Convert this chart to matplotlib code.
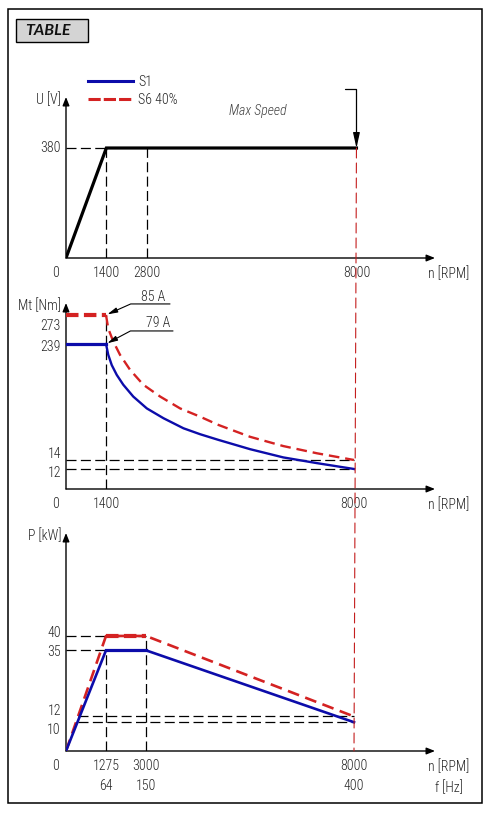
import numpy as np
import matplotlib
matplotlib.use("Agg")
import matplotlib.pyplot as plt
from matplotlib.patches import Rectangle, ConnectionPatch
from matplotlib.lines import Line2D

# ---------------- data ----------------
# Voltage chart
u_n = [0, 1400, 8000]
u_V = [0, 380, 380]
u_xticks = [1400, 2800, 8000]
u_yticks = [380]

# Torque chart
s1_tn = [0, 1400, 1490, 1630, 1830, 2090, 2490, 3020, 3420, 3900, 4300, 4740, 5500, 6300, 7110, 8000]
s1_T = [239, 239, 218, 198, 179, 160, 137, 114, 95, 75.5, 64, 53, 35, 19, 13.3, 12]
s6_tn = [0, 1400, 1490, 1690, 1960, 2360, 2890, 3340, 3820, 4300, 4740, 5500, 6300, 7110, 8000]
s6_T = [273, 273, 257, 242, 218, 189, 160, 137, 114, 98, 82, 59, 41, 27, 14]
t_xticks = [1400, 8000]
t_yticks = [273, 239, 14, 12]
s1_current = "79 A"
s6_current = "85 A"

# Power chart
p_n = [0, 1275, 3000, 8000]
s1_P = [0, 35, 35, 10]
s6_P = [0, 40, 40, 12]
p_xticks = [1275, 3000, 8000]
p_freq = [64, 150, 400]
p_yticks = [40, 35, 12, 10]

max_speed = 8000
legend_labels = ["S1", "S6 40%"]

# ---------------- style ----------------
FONT = ["Roboto Condensed", "DejaVu Sans"]
plt.rcParams["font.family"] = FONT
plt.rcParams["font.size"] = 10
plt.rcParams["font.weight"] = "light"
TXT = "#262626"
BLUE = "#0c0caa"
RED = "#d42222"
RED_V = "#c41e1e"

W, H = 497, 817
fig = plt.figure(figsize=(W / 100, H / 100), dpi=100)


def fx(px):
    return px / W


def fy(py):
    return 1 - py / H


def piecewise(vals, pos):
    vals = np.asarray(vals, float)
    pos = np.asarray(pos, float)
    s0 = (pos[1] - pos[0]) / (vals[1] - vals[0])
    s1 = (pos[-1] - pos[-2]) / (vals[-1] - vals[-2])
    v = np.concatenate([[vals[0] - 1e6], vals, [vals[-1] + 1e6]])
    p = np.concatenate([[pos[0] - 1e6 * s0], pos, [pos[-1] + 1e6 * s1]])
    return (lambda x: np.interp(x, v, p)), (lambda y: np.interp(y, p, v))


# outer frame and title box
fig.patches.append(Rectangle((fx(7.5), fy(803)), fx(482.5) - fx(7.5), (803 - 9) / H,
                             transform=fig.transFigure, fill=False, ec="k", lw=1.1))
fig.patches.append(Rectangle((fx(16), fy(42.3)), fx(88) - fx(16), (42.3 - 19.3) / H,
                             transform=fig.transFigure, fc="#d4d4d4", ec="k", lw=1.0))
fig.text(fx(25), fy(31), "TABLE", ha="left", va="center", fontsize=11.5,
         fontweight="bold", fontstyle="italic", family=["Lato", "DejaVu Sans"], color="#111")


def add_ax(top_px, bottom_px):
    ax = fig.add_axes([fx(66), fy(bottom_px), fx(435) - fx(66), (bottom_px - top_px) / H])
    ax.patch.set_visible(False)
    for s in ax.spines.values():
        s.set_visible(False)
    return ax


ax1 = add_ax(97, 258)
ax2 = add_ax(303, 489)
ax3 = add_ax(533, 751)

XMAX = 9947
ax1.set_xscale("function", functions=piecewise([0, 1400, 2800, 8000], [0, 1, 2, 7.2]))
ax2.set_xscale("function", functions=piecewise([0, 1400, 3000, 8000], [0, 1, 2, 7.2]))
ax3.set_xscale("function", functions=piecewise([0, 1275, 3000, 8000], [0, 1, 2, 7.2]))
ax2.set_yscale("function", functions=piecewise([0, 12, 14, 239, 273], [0, 20, 29, 145, 174]))
ax1.set_ylim(0, 556.2)
ax2.set_ylim(0, 287)
ax3.set_ylim(0, 75.8)
for ax in (ax1, ax2, ax3):
    ax.set_xlim(0, XMAX)
    ax.set_yticks([])
    ax.tick_params(axis="x", length=0, pad=6, labelcolor=TXT, labelsize=10)

AX_ARROW = dict(arrowstyle="-|>,head_length=0.5,head_width=0.2", color="k", lw=1.0,
                shrinkA=0, shrinkB=0, mutation_scale=10)


def axes_arrows(ax, ylabel, xlabel):
    ax.annotate("", xy=(1, 0), xytext=(0, 0), xycoords="axes fraction",
                arrowprops=AX_ARROW, annotation_clip=False)
    ax.annotate("", xy=(0, 1), xytext=(0, 0), xycoords="axes fraction",
                arrowprops=AX_ARROW, annotation_clip=False)
    ax.annotate(ylabel, xy=(0, 1), xycoords="axes fraction", xytext=(-5, -3),
                textcoords="offset pixels", ha="right", va="center", color=TXT,
                annotation_clip=False)
    ax.annotate(xlabel, xy=(1, 0), xycoords="axes fraction", xytext=(14, -8),
                textcoords="offset pixels", ha="center", va="top", color=TXT,
                linespacing=1.55, annotation_clip=False)
    ax.annotate("0", xy=(0, 0), xycoords="axes fraction", xytext=(-10, -8),
                textcoords="offset pixels", ha="center", va="top", color=TXT,
                annotation_clip=False)


def ylab(ax, v, dy):
    ax.annotate(str(v), xy=(0, v), xycoords=("axes fraction", "data"), xytext=(-5, dy),
                textcoords="offset pixels", ha="right", va="center", color=TXT,
                annotation_clip=False)


GUIDE = dict(color="k", lw=0.9, linestyle=(0, (8, 3.5)), zorder=1)

# ---------------- voltage ----------------
axes_arrows(ax1, "U [V]", "n [RPM]")
ax1.set_xticks(u_xticks, [str(t) for t in u_xticks])
ylab(ax1, u_yticks[0], 0)
ax1.plot([0, u_n[1]], [u_V[1]] * 2, **GUIDE)
for t in u_xticks[:2]:
    ax1.plot([t, t], [0, u_V[1]], **GUIDE)
ax1.plot(u_n, u_V, color="k", lw=2.3, solid_joinstyle="miter", zorder=3)
ax1.text(0.52, 0.913, "Max Speed", transform=ax1.transAxes, ha="center", va="center",
         fontstyle="italic", color="#444", fontsize=10)
ax1.annotate("", xy=(max_speed, u_V[-1]), xytext=(-11, 59), textcoords="offset pixels",
             arrowprops=dict(arrowstyle="-|>,head_length=0.9,head_width=0.2", color="k",
                             lw=0.9, shrinkA=0, shrinkB=0, mutation_scale=10,
                             connectionstyle="angle,angleA=0,angleB=90,rad=0"),
             annotation_clip=False)

handles = [Line2D([], [], color=BLUE, lw=2.2),
           Line2D([], [], color=RED, lw=2.2, linestyle=(0, (4, 1)))]
ax1.legend(handles, legend_labels, loc="upper left", bbox_to_anchor=(fx(88), fy(75)),
           bbox_transform=fig.transFigure, frameon=False, borderpad=0, borderaxespad=0,
           handlelength=3.25, handletextpad=0.36, labelspacing=0.3, fontsize=10,
           labelcolor=TXT)

# ---------------- torque ----------------
axes_arrows(ax2, "Mt [Nm]", "n [RPM]")
ax2.set_xticks(t_xticks, [str(t) for t in t_xticks])
for v, dy in zip(t_yticks, [-11, -3, 6, -4]):
    ylab(ax2, v, dy)
ax2.plot([s1_tn[1]] * 2, [0, s6_T[1]], **GUIDE)
ax2.plot([0, max_speed], [s6_T[-1]] * 2, **GUIDE)
ax2.plot([0, max_speed], [s1_T[-1]] * 2, **GUIDE)
ax2.plot(s6_tn[:2], s6_T[:2], color=RED, lw=3.0, linestyle=(0, (3, 1.3)), zorder=3)
ax2.plot(s6_tn[1:], s6_T[1:], color=RED, lw=1.7, linestyle=(0, (4.5, 2.5)), zorder=3)
ax2.plot(s1_tn[:2], s1_T[:2], color=BLUE, lw=2.3, zorder=4)
ax2.plot(s1_tn[1:], s1_T[1:], color=BLUE, lw=1.7, zorder=4)

LEADER = dict(arrowstyle="-|>,head_length=0.6,head_width=0.15", color="k", lw=0.8,
              shrinkA=0, shrinkB=1, mutation_scale=10)
ax2.annotate("", xy=(s6_tn[1], s6_T[1]), xytext=(64, 11), textcoords="offset pixels",
             arrowprops=dict(LEADER, connectionstyle="angle,angleA=0,angleB=24,rad=0"))
ax2.annotate(s6_current, xy=(s6_tn[1], s6_T[1]), xytext=(47, 18), textcoords="offset pixels",
             ha="center", va="center", color=TXT)
ax2.annotate("", xy=(s1_tn[1], s1_T[1]), xytext=(67, 13), textcoords="offset pixels",
             arrowprops=dict(LEADER, connectionstyle="angle,angleA=0,angleB=28,rad=0"))
ax2.annotate(s1_current, xy=(s1_tn[1], s1_T[1]), xytext=(52, 21), textcoords="offset pixels",
             ha="center", va="center", color=TXT)

# ---------------- power ----------------
axes_arrows(ax3, "P [kW]", "n [RPM]\nf [Hz]")
ax3.set_xticks(p_xticks, [f"{t}\n{f}" for t, f in zip(p_xticks, p_freq)])
for lab in ax3.get_xticklabels():
    lab.set_linespacing(1.55)
for v, dy in zip(p_yticks, [3, -2, 5.5, -8]):
    ylab(ax3, v, dy)
ax3.plot([0, p_n[2]], [s6_P[1]] * 2, **GUIDE)
ax3.plot([0, p_n[1]], [s1_P[1]] * 2, **GUIDE)
ax3.plot([p_n[1]] * 2, [0, s1_P[1]], **GUIDE)
ax3.plot([p_n[2]] * 2, [0, s6_P[2]], **GUIDE)
ax3.plot([370, max_speed], [s6_P[-1]] * 2, **GUIDE)
ax3.plot([370, max_speed], [s1_P[-1]] * 2, **GUIDE)
ax3.plot(p_n, s6_P, color=RED, lw=1.9, linestyle=(0, (4.5, 2.5)), zorder=3)
ax3.plot(p_n[1:3], s6_P[1:3], color=RED, lw=3.0, linestyle=(0, (3, 1.3)), zorder=3)
ax3.plot(p_n, s1_P, color=BLUE, lw=1.9, zorder=4)
ax3.plot(p_n[1:3], s1_P[1:3], color=BLUE, lw=2.3, zorder=4)

# max speed line running through all charts
con = ConnectionPatch(xyA=(max_speed, u_V[-1]), coordsA=ax1.transData,
                      xyB=(max_speed, 0), coordsB=ax3.transData,
                      color=RED_V, lw=0.8, linestyle=(0, (9, 4.5)), zorder=2)
fig.add_artist(con)

fig.savefig("out.png", dpi=100)
